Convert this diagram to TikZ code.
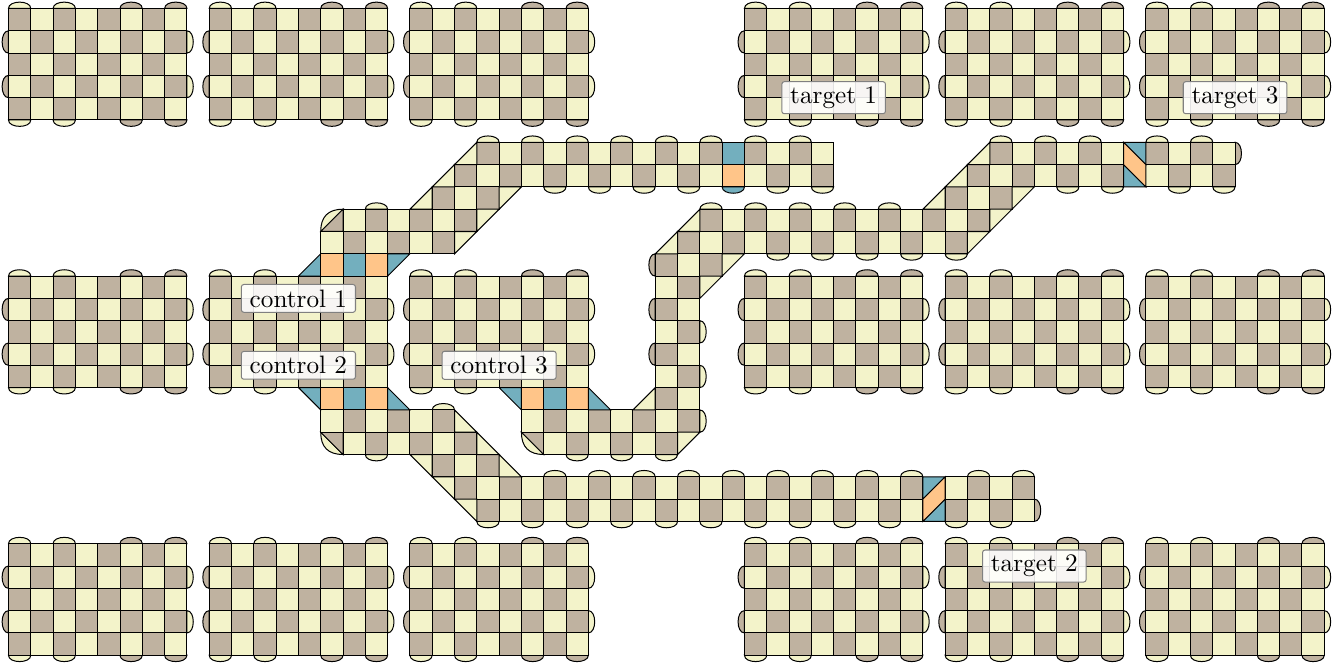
\documentclass[tikz,border=0pt]{standalone}
\definecolor{qyellow}{RGB}{243,243,202}
\definecolor{qbrown}{RGB}{191,178,160}
\definecolor{qblue}{RGB}{115,175,190}
\definecolor{qorange}{RGB}{255,197,137}

% one row of cells, brown where x+y+parity is odd
\newcommand{\cellrow}[4]{%
  \foreach \xc in {#3,...,#4} {
    \ifodd\numexpr\xc+#2+#1\relax
      \draw[bcell] (\xc,-#2) rectangle ++(1,-1);
    \else
      \draw[ycell] (\xc,-#2) rectangle ++(1,-1);
    \fi
  }}
% half cells, named by the corner that is left out
\newcommand{\triA}[3]{\draw[#1, shift={(#2,-#3)}] (0,-1) -- (1,0) -- (1,-1) -- cycle;}
\newcommand{\triB}[3]{\draw[#1, shift={(#2,-#3)}] (0,-1) -- (1,0) -- (0,0) -- cycle;}
\newcommand{\triC}[3]{\draw[#1, shift={(#2,-#3)}] (0,0) -- (0,-1) -- (1,-1) -- cycle;}
\newcommand{\triD}[3]{\draw[#1, shift={(#2,-#3)}] (0,0) -- (1,0) -- (1,-1) -- cycle;}
% boundary caps
\newcommand{\capN}[3]{\draw[#1, shift={(#2,-#3)}] (0,0) .. controls (0,.38) and (1,.38) .. (1,0) -- cycle;}
\newcommand{\capS}[3]{\draw[#1, shift={(#2,-#3)}] (0,0) .. controls (0,-.38) and (1,-.38) .. (1,0) -- cycle;}
\newcommand{\capW}[3]{\draw[#1, shift={(#2,-#3)}] (0,0) .. controls (-.38,0) and (-.38,-1) .. (0,-1) -- cycle;}
\newcommand{\capE}[3]{\draw[#1, shift={(#2,-#3)}] (0,0) .. controls (.38,0) and (.38,-1) .. (0,-1) -- cycle;}
% one 8x5 patch
\newcommand{\gridpatch}[2]{%
  \begin{scope}[shift={(#1,-#2)}]
    \foreach \i in {0,2} {\capN{ycell}{\i}{0} \capS{ycell}{\i}{5}}
    \foreach \i in {5,7} {\capN{bcell}{\i}{0} \capS{bcell}{\i}{5}}
    \foreach \j in {1,3} {\capW{bcell}{0}{\j} \capE{ycell}{8}{\j}}
    \foreach \j in {0,...,4} {\cellrow{1}{\j}{0}{7}}
  \end{scope}}
% the coloured row under or over a control patch
\newcommand{\ctrlrow}[2]{%
  \draw[orangecell] (#1+1,-#2) rectangle ++(1,-1);
  \draw[bluecell]   (#1+2,-#2) rectangle ++(1,-1);
  \draw[orangecell] (#1+3,-#2) rectangle ++(1,-1);}

\begin{document}
\begin{tikzpicture}[x=.311cm, y=.311cm,
    ycell/.style={draw=black, fill=qyellow},
    bcell/.style={draw=black, fill=qbrown},
    bluecell/.style={draw=black, fill=qblue},
    orangecell/.style={draw=black, fill=qorange},
    qlabel/.style={draw=black!50, fill=white, fill opacity=.88, text opacity=1,
                   rounded corners=1pt, inner xsep=3.33pt, inner ysep=2pt}
  ]
    \useasboundingbox (-0.381,0.381) rectangle (59.84,-29.57);

    % Patches
    \foreach \px in {0,9,18,33,42,51}
      \foreach \py in {0,12,24} {\gridpatch{\px}{\py}}

    % Route control 1 -> target 1
    \capN{ycell}{16}{9}
    \foreach \xc in {21,23,...,35} {\capN{ycell}{\xc}{6}}
    \foreach \xc in {24,26,28,30,34,36} {\capS{ycell}{\xc}{8}}
    \capS{bluecell}{32}{8}
    \draw[ycell] (14,-10) to[out=90, in=180, looseness=1.2] (15,-9) -- cycle;
    \triA{bcell}{14}{9}
    \foreach \yy/\xa/\xb in {9/15/20, 10/14/19, 8/19/21, 7/20/31, 7/33/36, 6/21/31, 6/33/36}
      {\cellrow{0}{\yy}{\xa}{\xb}}
    \foreach \xc/\yy in {18/8, 19/7, 20/6} {\triA{ycell}{\xc}{\yy}}
    \foreach \xc/\yy in {21/9, 20/10, 22/8} {\triB{ycell}{\xc}{\yy}}
    \draw[bluecell] (32,-6) rectangle ++(1,-1);
    \draw[orangecell] (32,-7) rectangle ++(1,-1);
    \triA{bluecell}{13}{11}
    \ctrlrow{13}{11}
    \triB{bluecell}{17}{11}

    % Route control 2 -> target 2
    \capN{ycell}{19}{18}
    \capS{ycell}{16}{20}
    \foreach \xc in {24,26,...,40} {\capN{ycell}{\xc}{21}}
    \foreach \xc in {43,45} {\capN{ycell}{\xc}{21}}
    \foreach \xc in {21,23,...,39} {\capS{ycell}{\xc}{23}}
    \foreach \xc in {42,44} {\capS{ycell}{\xc}{23}}
    \capE{bcell}{46}{22}
    \draw[ycell] (14,-19) to[out=-90, in=180, looseness=1.2] (15,-20) -- cycle;
    \triD{bcell}{14}{19}
    \foreach \yy/\xa/\xb in {18/14/19, 19/15/20, 20/19/21, 21/20/40, 22/21/40}
      {\cellrow{0}{\yy}{\xa}{\xb}}
    \foreach \yy in {21,22} {\cellrow{1}{\yy}{42}{45}}
    \foreach \xc/\yy in {18/20, 19/21, 20/22} {\triD{ycell}{\xc}{\yy}}
    \foreach \xc/\yy in {20/18, 21/19, 22/20} {\triC{ycell}{\xc}{\yy}}
    \triB{bluecell}{41}{21}
    \triA{bluecell}{41}{22}
    \draw[orangecell] (41,-22) -- (42,-21) -- (42,-22) -- (41,-23) -- cycle;
    \triD{bluecell}{13}{17}
    \ctrlrow{13}{17}
    \triC{bluecell}{17}{17}

    % Route control 3 -> target 3
    \foreach \xc in {25,27,29} {\capS{ycell}{\xc}{20}}
    \foreach \yy in {14,16,18} {\capE{ycell}{31}{\yy}}
    \foreach \yy in {11,13,15} {\capW{bcell}{29}{\yy}}
    \foreach \xc in {31,33,...,39} {\capN{ycell}{\xc}{9}}
    \foreach \xc in {34,36,...,42} {\capS{ycell}{\xc}{11}}
    \foreach \xc in {44,46,48,51,53} {\capN{ycell}{\xc}{6}}
    \foreach \xc in {47,49,52,54} {\capS{ycell}{\xc}{8}}
    \capE{bcell}{55}{6}
    \draw[ycell] (23,-19) to[out=-90, in=180, looseness=1.2] (24,-20) -- cycle;
    \triD{bcell}{23}{19}
    \foreach \yy/\xa/\xb in {18/23/30, 19/24/29, 17/29/30, 16/29/30, 15/29/30, 14/29/30,
                             13/29/30, 12/29/30, 11/29/31, 10/30/42, 9/31/43, 8/42/44,
                             7/43/49, 6/44/49}
      {\cellrow{1}{\yy}{\xa}{\xb}}
    \foreach \yy in {6,7} {\cellrow{0}{\yy}{51}{54}}
    \foreach \xc/\yy in {28/17, 29/10, 30/9, 41/8, 42/7, 43/6} {\triA{ycell}{\xc}{\yy}}
    \foreach \xc/\yy in {30/19, 31/12, 32/11, 43/10, 44/9, 45/8} {\triB{ycell}{\xc}{\yy}}
    \triD{bluecell}{50}{6}
    \triC{bluecell}{50}{7}
    \draw[orangecell] (50,-6) -- (51,-7) -- (51,-8) -- (50,-7) -- cycle;
    \triD{bluecell}{22}{17}
    \ctrlrow{22}{17}
    \triC{bluecell}{26}{17}

    % Labels
    \node[qlabel] (ctrl1) at (13,-13) {control 1};
    \node[qlabel] (ctrl2) at (13,-16) {control 2};
    \node[qlabel] (ctrl3) at (22,-16) {control 3};
    \node[qlabel] (targ1) at (37,-4)  {target 1};
    \node[qlabel] (targ2) at (46,-25) {target 2};
    \node[qlabel] (targ3) at (55,-4)  {target 3};
  \end{tikzpicture}
\end{document}
